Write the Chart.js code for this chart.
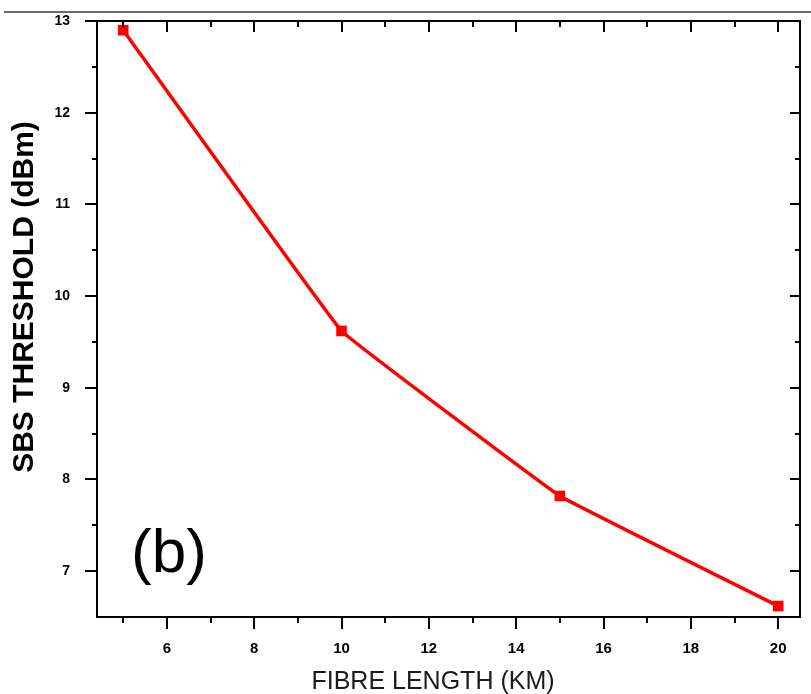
<!DOCTYPE html>
<html>
<head>
<meta charset="utf-8">
<script src="https://cdn.jsdelivr.net/npm/chart.js@4/dist/chart.umd.min.js"></script>
<style>
  html, body { margin: 0; padding: 0; background: #fff; }
  #wrap { width: 811px; height: 694px; }
</style>
</head>
<body>
<div id="wrap"><canvas id="c" width="811" height="694"></canvas></div>
<script>
// ---- data ----
const fibreLengthKm = [5, 10, 15, 20];
const sbsThresholdDbm = [12.9, 9.62, 7.82, 6.62];
const xMajorTicks = [6, 8, 10, 12, 14, 16, 18, 20];
const xMinorTicks = [5, 7, 9, 11, 13, 15, 17, 19];
const yMajorTicks = [7, 8, 9, 10, 11, 12, 13];
const yMinorTicks = [7.5, 8.5, 9.5, 10.5, 11.5, 12.5];
const xTitle = 'FIBRE LENGTH (KM)';
const yTitle = 'SBS THRESHOLD (dBm)';
const panelLabel = '(b)';

const FONT = "'Liberation Sans', Arial, sans-serif";

const framePlugin = {
  id: 'frame',
  beforeDraw(chart) {
    const ctx = chart.ctx;
    ctx.save();
    ctx.fillStyle = '#6b6b6b';
    ctx.fillRect(4, 11, 807, 2);
    ctx.restore();
  },
  afterDraw(chart) {
    const ctx = chart.ctx;
    const a = chart.chartArea;
    const xs = chart.scales.x, ys = chart.scales.y;
    ctx.save();
    ctx.strokeStyle = '#000';
    ctx.lineWidth = 2;
    ctx.strokeRect(a.left, a.top, a.right - a.left, a.bottom - a.top);
    ctx.beginPath();
    const tick = (vals, len, inLen) => {
      vals.forEach(v => {
        const px = Math.round(xs.getPixelForValue(v));
        ctx.moveTo(px, a.bottom); ctx.lineTo(px, a.bottom + len);
        ctx.moveTo(px, a.top); ctx.lineTo(px, a.top + inLen);
      });
    };
    tick(xMajorTicks, 12, 11);
    tick(xMinorTicks, 6, 6);
    const ytick = (vals, len, inLen) => {
      vals.forEach(v => {
        const py = Math.round(ys.getPixelForValue(v));
        ctx.moveTo(a.left, py); ctx.lineTo(a.left - len, py);
        ctx.moveTo(a.right, py); ctx.lineTo(a.right - inLen, py);
      });
    };
    ytick(yMajorTicks, 12, 10);
    ytick(yMinorTicks, 5, 5);
    ctx.stroke();

    ctx.fillStyle = '#000';
    // panel label
    ctx.font = '62px ' + FONT;
    ctx.textBaseline = 'alphabetic';
    ctx.textAlign = 'left';
    ctx.fillText(panelLabel, a.left + 34, a.top + 551);
    // axis titles
    ctx.textAlign = 'center';
    ctx.textBaseline = 'middle';
    ctx.fillStyle = '#1a1a1a';
    ctx.font = '25px ' + FONT;
    ctx.fillText(xTitle, 433, 682);
    ctx.fillStyle = '#000';
    ctx.font = 'bold 30px ' + FONT;
    ctx.translate(25, 297);
    ctx.rotate(-Math.PI / 2);
    ctx.fillText(yTitle, 0, 0);
    ctx.restore();
  }
};

new Chart(document.getElementById('c'), {
  type: 'line',
  data: {
    datasets: [{
      data: fibreLengthKm.map((x, i) => ({ x: x, y: sbsThresholdDbm[i] })),
      borderColor: '#ff0000',
      backgroundColor: '#ff0000',
      borderWidth: 3.5,
      pointStyle: 'rect',
      pointRadius: 7.5,
      pointBorderWidth: 0,
      pointBackgroundColor: '#ff0000',
      tension: 0.05,
      fill: false
    }]
  },
  options: {
    responsive: false,
    animation: false,
    events: [],
    layout: { padding: { top: 21, right: 11, left: 0, bottom: 0 } },
    plugins: { legend: { display: false }, tooltip: { enabled: false } },
    scales: {
      x: {
        type: 'linear',
        min: 4.4, max: 20.5,
        afterBuildTicks: s => { s.ticks = xMajorTicks.map(v => ({ value: v })); },
        afterFit: s => { s.height = 77; s.paddingLeft = 0; s.paddingRight = 0; },
        grid: { display: false, drawTicks: false },
        border: { display: false },
        ticks: { color: '#000', padding: 23, font: { family: FONT, size: 15, weight: 'bold' } },
        title: { display: false, text: xTitle }
      },
      y: {
        type: 'linear',
        min: 6.5, max: 13,
        afterBuildTicks: s => { s.ticks = yMajorTicks.map(v => ({ value: v })); },
        afterFit: s => { s.width = 97; s.paddingTop = 0; s.paddingBottom = 0; },
        grid: { display: false, drawTicks: false },
        border: { display: false },
        ticks: { color: '#000', padding: 27, font: { family: FONT, size: 14, weight: 'bold' } },
        title: { display: false, text: yTitle }
      }
    }
  },
  plugins: [framePlugin]
});
</script>
</body>
</html>
